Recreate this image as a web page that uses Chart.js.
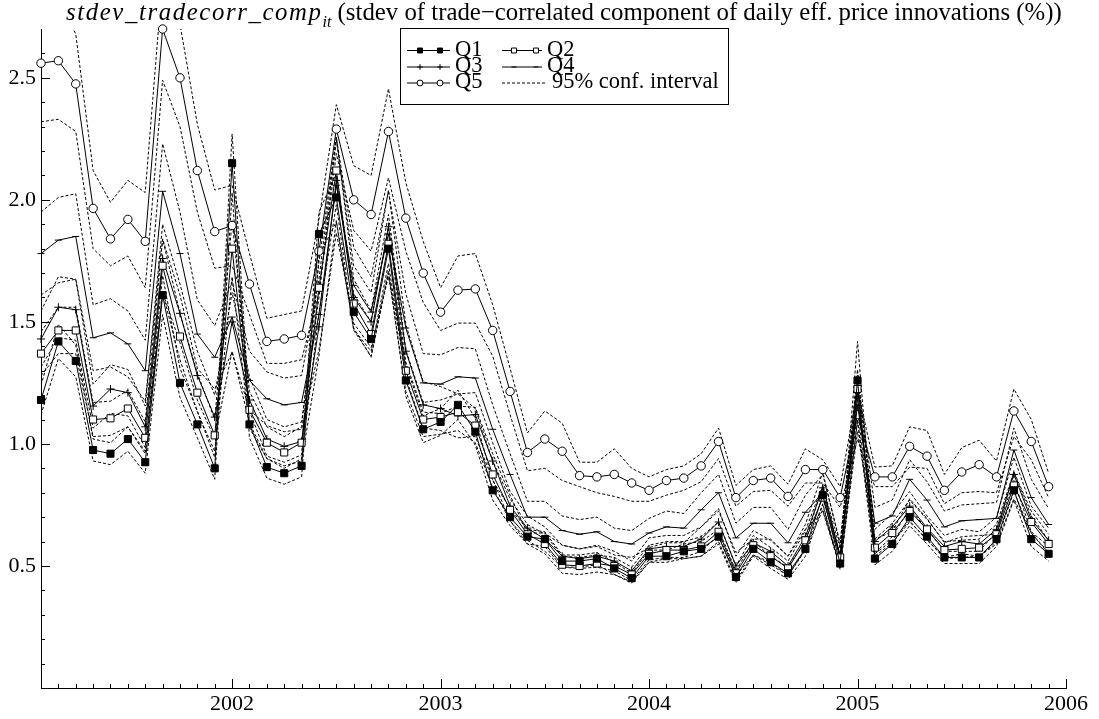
<!DOCTYPE html>
<html>
<head>
<meta charset="utf-8">
<script src="https://cdn.jsdelivr.net/npm/chart.js@4.4.1/dist/chart.umd.min.js"></script>
<style>
	html, body { margin: 0; padding: 0; background: #fff; }
	#wrap { position: relative; width: 1099px; height: 719px; }
	#title { position: absolute; left: 66px; top: 0px; font-family: "Liberation Serif", serif; font-size: 24.8px; line-height: 24px; white-space: nowrap; color: #000; }
	#title .var { font-style: italic; letter-spacing: 1.6px; }
	#title .sub { font-style: italic; font-size: 16px; position: relative; top: 7px; }
</style>
</head>
<body>
<div id="wrap">
	<canvas id="chart" width="1099" height="719"></canvas>
	<div id="title"><span class="var">stdev_tradecorr_comp</span><span class="sub">it</span> (stdev of trade−correlated component of daily eff. price innovations (%))</div>
</div>
<script>
'use strict';

// monthly observations, Feb 2001 - Dec 2005 (59 months)
const startYear = 2001, startMonth = 2, nMonths = 59;

const q1 = [1.18,1.42,1.34,0.975,0.96,1.02,0.925,1.61,1.25,1.08,0.90,2.15,
	1.08,0.905,0.88,0.91,1.86,2.01,1.54,1.43,1.80,1.26,1.06,1.09,1.16,1.05,
	0.81,0.70,0.62,0.61,0.52,0.52,0.53,0.49,0.45,0.54,0.54,0.56,0.57,0.62,
	0.455,0.57,0.515,0.47,0.57,0.79,0.51,1.26,0.53,0.59,0.70,0.62,0.535,0.535,0.535,0.61,0.81,0.61,0.55];
const q2 = [1.37,1.465,1.465,1.10,1.105,1.145,1.025,1.73,1.44,1.21,1.035,1.80,
	1.14,1.005,0.965,1.005,1.64,2.12,1.575,1.45,1.82,1.30,1.10,1.11,1.13,1.075,
	0.875,0.73,0.63,0.59,0.505,0.50,0.51,0.50,0.465,0.55,0.565,0.565,0.58,0.64,
	0.47,0.585,0.54,0.49,0.605,0.78,0.535,1.225,0.575,0.635,0.725,0.65,0.565,0.57,0.575,0.63,0.83,0.68,0.59];
const q3 = [1.43,1.56,1.55,1.155,1.225,1.21,1.07,1.76,1.535,1.28,1.11,1.50,
	1.18,1.02,0.99,1.01,1.48,2.08,1.60,1.50,1.89,1.38,1.16,1.145,1.115,1.12,
	0.93,0.745,0.655,0.61,0.54,0.53,0.54,0.52,0.48,0.57,0.58,0.58,0.61,0.68,
	0.50,0.595,0.56,0.50,0.62,0.82,0.54,1.19,0.60,0.66,0.745,0.655,0.58,0.60,0.59,0.65,0.875,0.69,0.605];
const q4 = [1.78,1.835,1.85,1.435,1.455,1.41,1.30,2.035,1.78,1.45,1.355,1.52,
	1.26,1.185,1.16,1.17,1.53,2.06,1.65,1.54,1.86,1.475,1.25,1.245,1.275,1.27,
	1.06,0.875,0.70,0.70,0.645,0.63,0.64,0.60,0.59,0.635,0.66,0.655,0.73,0.80,
	0.615,0.675,0.675,0.595,0.72,0.80,0.545,1.16,0.675,0.705,0.855,0.77,0.66,0.685,0.69,0.695,0.975,0.78,0.67];
const q5 = [2.56,2.57,2.475,1.965,1.84,1.92,1.83,2.70,2.50,2.12,1.87,1.895,
	1.655,1.42,1.43,1.445,1.79,2.29,2.00,1.94,2.28,1.925,1.70,1.54,1.63,1.635,
	1.465,1.215,0.965,1.02,0.97,0.87,0.865,0.875,0.84,0.81,0.85,0.86,0.91,1.01,
	0.78,0.85,0.86,0.785,0.895,0.895,0.78,1.12,0.865,0.865,0.99,0.95,0.81,0.885,0.915,0.865,1.135,1.01,0.825];

// 95% confidence bands
const q5Upper = [2.80,2.81,2.68,2.12,1.99,2.08,2.03,2.91,2.72,2.31,2.04,2.06,
	1.78,1.515,1.53,1.545,1.92,2.39,2.14,2.10,2.455,2.07,1.83,1.64,1.77,1.78,
	1.57,1.31,1.045,1.135,1.085,0.925,0.925,0.98,0.90,0.865,0.895,0.91,0.96,1.065,
	0.83,0.895,0.91,0.835,0.98,0.935,0.825,1.22,0.905,0.91,1.07,1.055,0.875,0.985,1.015,0.93,1.225,1.10,0.88];
const q5Lower = [2.32,2.33,2.28,1.80,1.73,1.77,1.64,2.49,2.30,1.95,1.72,1.73,
	1.53,1.33,1.33,1.345,1.62,2.19,1.875,1.79,2.09,1.79,1.58,1.465,1.495,1.495,
	1.36,1.12,0.89,0.90,0.85,0.825,0.80,0.785,0.765,0.765,0.79,0.81,0.845,0.94,
	0.745,0.805,0.81,0.745,0.84,0.84,0.74,1.02,0.825,0.825,0.905,0.90,0.755,0.80,0.805,0.80,1.03,0.935,0.78];
// half widths of the bands for Q1-Q4
const q1Half = [.06,.07,.065,.045,.045,.05,.045,.08,.06,.055,.045,.12,
	.055,.045,.045,.045,.09,.10,.075,.07,.09,.065,.055,.055,.06,.055,
	.04,.035,.03,.03,.025,.025,.025,.025,.02,.025,.025,.03,.03,.03,
	.025,.03,.025,.025,.03,.04,.025,.16,.025,.03,.035,.03,.025,.025,.025,.03,.04,.03,.03];
const q2Half = [.09,.095,.095,.07,.07,.075,.065,.11,.095,.08,.065,.115,
	.075,.065,.065,.065,.105,.14,.10,.095,.12,.085,.07,.07,.075,.07,
	.055,.045,.04,.04,.035,.035,.035,.035,.03,.035,.035,.035,.04,.04,
	.03,.04,.035,.03,.04,.05,.035,.08,.035,.04,.045,.04,.035,.035,.035,.04,.055,.045,.04];
const q3Half = [.115,.125,.125,.09,.10,.095,.085,.14,.12,.10,.09,.12,
	.095,.08,.08,.08,.12,.165,.13,.12,.15,.11,.095,.09,.09,.09,
	.075,.06,.05,.05,.045,.04,.045,.04,.04,.045,.045,.045,.05,.055,
	.04,.05,.045,.04,.05,.065,.045,.095,.05,.055,.06,.05,.045,.05,.05,.05,.07,.055,.05];
const q4Half = [.17,.175,.175,.135,.14,.135,.125,.195,.17,.14,.13,.145,
	.12,.11,.11,.11,.145,.195,.155,.145,.175,.14,.12,.12,.12,.12,
	.10,.085,.065,.065,.06,.06,.06,.055,.055,.06,.065,.06,.07,.075,
	.06,.065,.065,.055,.07,.075,.05,.11,.065,.065,.08,.075,.065,.065,.065,.065,.09,.075,.065];

const yearTicks = [2002, 2003, 2004, 2005, 2006];
const yTickLabels = [0.5, 1.0, 1.5, 2.0, 2.5];

// decimal year of each month
const months = [];
for(let i = 0; i < nMonths; i++){
	months.push(startYear + (startMonth - 1 + i) / 12);
}
const pts = arr => arr.map((v, i) => ({x: months[i], y: v}));

const FONT = 'Liberation Serif';
Chart.defaults.font.family = FONT;
Chart.defaults.font.size = 22;
Chart.defaults.color = '#000';

function quintile(label, data, style, fill, radius){
	return {
		label: label,
		data: pts(data),
		borderColor: '#000',
		borderWidth: 1,
		pointStyle: style,
		pointRadius: radius,
		pointBackgroundColor: fill,
		pointBorderColor: '#000',
		pointBorderWidth: 1,
		clip: 8
	};
}
function band(data){
	return {
		label: '95% conf. interval',
		data: pts(data),
		borderColor: '#000',
		borderWidth: 1,
		borderDash: [3, 2],
		pointRadius: 0
	};
}

const bands = [];
[[q1, q1Half], [q2, q2Half], [q3, q3Half], [q4, q4Half]].forEach(([q, h]) => {
	bands.push(band(q.map((v, i) => v + h[i])));
	bands.push(band(q.map((v, i) => v - h[i])));
});
bands.push(band(q5Upper), band(q5Lower));

// ticks pointing into the plot, monthly / 0.1 minor ticks
const innerTicks = {
	id: 'innerTicks',
	afterDatasetsDraw(chart){
		const {ctx, chartArea: a, scales: {x, y}} = chart;
		ctx.save();
		ctx.strokeStyle = '#000';
		ctx.lineWidth = 1;
		ctx.beginPath();
		for(let m = 2; m <= 60; m++){
			const px = Math.round(x.getPixelForValue(2001 + m / 12)) + 0.5;
			const len = m % 12 === 0 ? 9 : 4;
			ctx.moveTo(px, a.bottom);
			ctx.lineTo(px, a.bottom - len);
		}
		for(let j = 1; j <= 26; j++){
			const py = Math.round(y.getPixelForValue(j / 10)) + 0.5;
			const len = j % 5 === 0 ? 9 : 4;
			ctx.moveTo(a.left, py);
			ctx.lineTo(a.left + len, py);
		}
		ctx.stroke();
		ctx.restore();
	}
};

// boxed two-column legend
const boxLegend = {
	id: 'boxLegend',
	afterDraw(chart){
		const ctx = chart.ctx;
		const ds = chart.data.datasets;
		const box = {x: 400.5, y: 28.5, w: 328, h: 76};
		const rows = [50, 66.5, 82.5];
		const entries = [
			{i: 0, col: 0, row: 0}, {i: 1, col: 1, row: 0},
			{i: 2, col: 0, row: 1}, {i: 3, col: 1, row: 1},
			{i: 4, col: 0, row: 2}, {i: 5, col: 1, row: 2}
		];
		const cols = [{x0: 407, x1: 450, m: [420, 440], tx: 455}, {x0: 502, x1: 542, m: [514, 536], tx: 547}];
		ctx.save();
		ctx.fillStyle = '#fff';
		ctx.fillRect(box.x, box.y, box.w, box.h);
		ctx.strokeStyle = '#000';
		ctx.lineWidth = 1;
		ctx.strokeRect(box.x, box.y, box.w, box.h);
		ctx.font = '22.5px "' + FONT + '"';
		ctx.textBaseline = 'alphabetic';
		entries.forEach(e => {
			const d = ds[e.i];
			const c = cols[e.col];
			const y = rows[e.row];
			const isBand = e.i === 5;
			const x1 = isBand ? 547 : c.x1;
			ctx.strokeStyle = '#000';
			ctx.setLineDash(d.borderDash || []);
			ctx.beginPath();
			ctx.moveTo(c.x0, y + 0.5);
			ctx.lineTo(x1, y + 0.5);
			ctx.stroke();
			ctx.setLineDash([]);
			if(!isBand && d.pointStyle){
				ctx.fillStyle = d.pointBackgroundColor;
				c.m.forEach(mx => {
					Chart.helpers.drawPoint(ctx, {pointStyle: d.pointStyle, radius: d.pointRadius * 0.7, rotation: 0, borderWidth: 1}, mx, y + 0.5);
				});
			}
			ctx.fillStyle = '#000';
			ctx.fillText(d.label, isBand ? 552 : c.tx, y + 5.5);
		});
		ctx.restore();
	}
};

new Chart(document.getElementById('chart'), {
	type: 'line',
	data: {
		datasets: [
			quintile('Q1', q1, 'rect', '#000', 5),
			quintile('Q2', q2, 'rect', '#fff', 5),
			quintile('Q3', q3, 'cross', '#000', 4),
			quintile('Q4', q4, 'line', '#000', 3.5),
			quintile('Q5', q5, 'circle', '#fff', 4.2),
			...bands
		]
	},
	options: {
		responsive: false,
		animation: false,
		devicePixelRatio: 1,
		events: [],
		layout: {padding: {top: 29, right: 33, left: 0, bottom: 0}},
		elements: {line: {tension: 0}},
		plugins: {legend: {display: false}, tooltip: {enabled: false}, title: {display: false}},
		scales: {
			x: {
				type: 'linear',
				min: startYear + (startMonth - 1) / 12,
				max: 2006,
				afterFit: s => { s.height = 31; },
				afterBuildTicks: s => { s.ticks = yearTicks.map(v => ({value: v})); },
				grid: {display: false, drawTicks: false},
				border: {display: true, color: '#000', width: 1},
				ticks: {autoSkip: false, maxRotation: 0, padding: 3, callback: v => String(v)}
			},
			y: {
				min: 0,
				max: 2.70,
				afterFit: s => { s.width = 41; },
				afterBuildTicks: s => { s.ticks = yTickLabels.map(v => ({value: v})); },
				grid: {display: false, drawTicks: false},
				border: {display: true, color: '#000', width: 1},
				ticks: {padding: 5, callback: v => v.toFixed(1)}
			}
		}
	},
	plugins: [innerTicks, boxLegend]
});
</script>
</body>
</html>
